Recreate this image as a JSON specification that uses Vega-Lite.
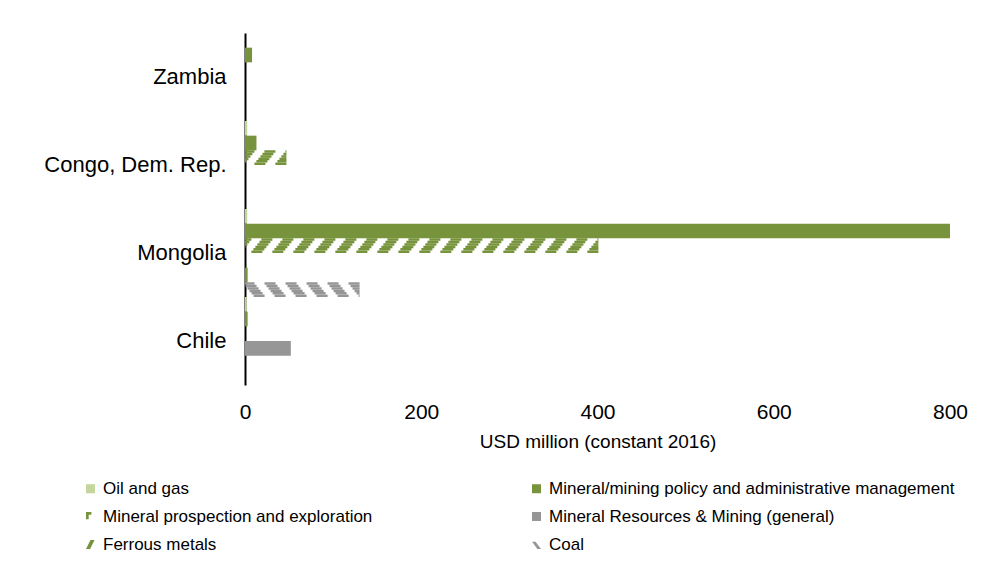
{
  "$schema": "https://vega.github.io/schema/vega-lite/v6.json",
  "width": 705,
  "height": 352,
  "autosize": {"type": "none"},
  "padding": {"left": 245, "top": 33, "right": 45, "bottom": 179},
  "background": "#ffffff",
  "config": {
    "font": "Liberation Sans",
    "view": {"stroke": null},
    "axis": {"labelColor": "#000000", "titleColor": "#000000", "grid": false, "ticks": false}
  },
  "data": {
    "values": [
      {"country": "Zambia", "series": "Mineral/mining policy and administrative management", "value": 8},
      {"country": "Congo, Dem. Rep.", "series": "Oil and gas", "value": 2.5},
      {"country": "Congo, Dem. Rep.", "series": "Mineral/mining policy and administrative management", "value": 13},
      {"country": "Congo, Dem. Rep.", "series": "Ferrous metals", "value": 47},
      {"country": "Mongolia", "series": "Oil and gas", "value": 2.5},
      {"country": "Mongolia", "series": "Mineral/mining policy and administrative management", "value": 800},
      {"country": "Mongolia", "series": "Ferrous metals", "value": 401},
      {"country": "Mongolia", "series": "Mineral prospection and exploration", "value": 3},
      {"country": "Mongolia", "series": "Coal", "value": 130},
      {"country": "Chile", "series": "Oil and gas", "value": 2},
      {"country": "Chile", "series": "Mineral/mining policy and administrative management", "value": 3},
      {"country": "Chile", "series": "Mineral Resources & Mining (general)", "value": 52}
    ]
  },
  "layer": [
    {
      "transform": [{"filter": "datum.series !== 'Ferrous metals' && datum.series !== 'Coal'"}],
      "mark": {"type": "bar"},
      "encoding": {
        "y": {
          "field": "country", "type": "nominal",
          "scale": {"domain": ["Zambia", "Congo, Dem. Rep.", "Mongolia", "Chile"], "paddingInner": 0, "paddingOuter": 0},
          "axis": {"title": null, "labelFontSize": 22, "labelPadding": 19, "labelLimit": 400, "domainColor": "#000000", "domainWidth": 2}
        },
        "yOffset": {
          "field": "series", "type": "nominal",
          "scale": {"domain": ["Oil and gas", "Mineral/mining policy and administrative management", "Ferrous metals", "Mineral Resources & Mining (general)", "Mineral prospection and exploration", "Coal"], "paddingInner": 0, "paddingOuter": 0}
        },
        "x": {
          "field": "value", "type": "quantitative",
          "scale": {"domain": [0, 800], "nice": false},
          "axis": {"values": [0, 200, 400, 600, 800], "domain": false, "labelFlush": false, "labelBound": false, "labelFontSize": 21, "labelPadding": 16, "title": "USD million  (constant 2016)", "titleFontSize": 19, "titleFontWeight": "normal", "titlePadding": 10}
        },
        "color": {
          "field": "series", "type": "nominal",
          "scale": {
            "domain": ["Oil and gas", "Mineral prospection and exploration", "Ferrous metals", "Mineral/mining policy and administrative management", "Mineral Resources & Mining (general)", "Coal"],
            "range": ["#C3D69B", "#77933C", "#77933C", "#77933C", "#969696", "#969696"]
          },
          "legend": {
            "title": null, "orient": "none", "legendX": -163, "legendY": 447,
            "columns": 2, "columnPadding": 155, "rowPadding": 10,
            "symbolType": "square", "symbolSize": 81, "symbolStrokeWidth": 0,
            "labelFontSize": 17, "labelOffset": 4, "labelColor": "#000000", "labelLimit": 500,
            "encode": {
              "symbols": {
                "update": {
                  "shape": {"signal": "datum.value === 'Ferrous metals' ? 'M-1,1L-0.1,1L0.9,-1L0,-1Z' : datum.value === 'Coal' ? 'M-1,-0.6L-0.2,-0.6L1,1L0.2,1Z' : datum.value === 'Mineral prospection and exploration' ? 'M-1,-1L0.2,-1L0.2,-0.4L-0.4,-0.4L-0.4,0.6L-1,0.6Z' : 'square'"}
                }
              }
            }
          }
        }
      }
    },
    {
      "transform": [{"filter": "datum.series === 'Ferrous metals'"}],
      "layer": [
        {"mark": {"type": "rule", "color": "#77933C", "strokeWidth": 2.5, "strokeDash": [11, 10], "strokeDashOffset": 10.0},
         "encoding": {"y": {"field": "country", "type": "nominal", "bandPosition": 0.34722}, "x": {"field": "value", "type": "quantitative"}, "x2": {"datum": 0}}},
        {"mark": {"type": "rule", "color": "#77933C", "strokeWidth": 2.5, "strokeDash": [11, 10], "strokeDashOffset": 8.0},
         "encoding": {"y": {"field": "country", "type": "nominal", "bandPosition": 0.375}, "x": {"field": "value", "type": "quantitative"}, "x2": {"datum": 0}}},
        {"mark": {"type": "rule", "color": "#77933C", "strokeWidth": 2.5, "strokeDash": [11, 10], "strokeDashOffset": 6.0},
         "encoding": {"y": {"field": "country", "type": "nominal", "bandPosition": 0.40278}, "x": {"field": "value", "type": "quantitative"}, "x2": {"datum": 0}}},
        {"mark": {"type": "rule", "color": "#77933C", "strokeWidth": 2.5, "strokeDash": [11, 10], "strokeDashOffset": 4.0},
         "encoding": {"y": {"field": "country", "type": "nominal", "bandPosition": 0.43056}, "x": {"field": "value", "type": "quantitative"}, "x2": {"datum": 0}}},
        {"mark": {"type": "rule", "color": "#77933C", "strokeWidth": 2.5, "strokeDash": [11, 10], "strokeDashOffset": 2.0},
         "encoding": {"y": {"field": "country", "type": "nominal", "bandPosition": 0.45833}, "x": {"field": "value", "type": "quantitative"}, "x2": {"datum": 0}}},
        {"mark": {"type": "rule", "color": "#77933C", "strokeWidth": 2.5, "strokeDash": [11, 10], "strokeDashOffset": 0},
         "encoding": {"y": {"field": "country", "type": "nominal", "bandPosition": 0.48611}, "x": {"field": "value", "type": "quantitative"}, "x2": {"datum": 0}}}
      ]
    },
    {
      "transform": [{"filter": "datum.series === 'Coal'"}],
      "layer": [
        {"mark": {"type": "rule", "color": "#969696", "strokeWidth": 2.5, "strokeDash": [11, 10], "strokeDashOffset": 0},
         "encoding": {"y": {"field": "country", "type": "nominal", "bandPosition": 0.84722}, "x": {"field": "value", "type": "quantitative"}, "x2": {"datum": 0}}},
        {"mark": {"type": "rule", "color": "#969696", "strokeWidth": 2.5, "strokeDash": [11, 10], "strokeDashOffset": 2.0},
         "encoding": {"y": {"field": "country", "type": "nominal", "bandPosition": 0.875}, "x": {"field": "value", "type": "quantitative"}, "x2": {"datum": 0}}},
        {"mark": {"type": "rule", "color": "#969696", "strokeWidth": 2.5, "strokeDash": [11, 10], "strokeDashOffset": 4.0},
         "encoding": {"y": {"field": "country", "type": "nominal", "bandPosition": 0.90278}, "x": {"field": "value", "type": "quantitative"}, "x2": {"datum": 0}}},
        {"mark": {"type": "rule", "color": "#969696", "strokeWidth": 2.5, "strokeDash": [11, 10], "strokeDashOffset": 6.0},
         "encoding": {"y": {"field": "country", "type": "nominal", "bandPosition": 0.93056}, "x": {"field": "value", "type": "quantitative"}, "x2": {"datum": 0}}},
        {"mark": {"type": "rule", "color": "#969696", "strokeWidth": 2.5, "strokeDash": [11, 10], "strokeDashOffset": 8.0},
         "encoding": {"y": {"field": "country", "type": "nominal", "bandPosition": 0.95833}, "x": {"field": "value", "type": "quantitative"}, "x2": {"datum": 0}}},
        {"mark": {"type": "rule", "color": "#969696", "strokeWidth": 2.5, "strokeDash": [11, 10], "strokeDashOffset": 10.0},
         "encoding": {"y": {"field": "country", "type": "nominal", "bandPosition": 0.98611}, "x": {"field": "value", "type": "quantitative"}, "x2": {"datum": 0}}}
      ]
    }
  ]
}
